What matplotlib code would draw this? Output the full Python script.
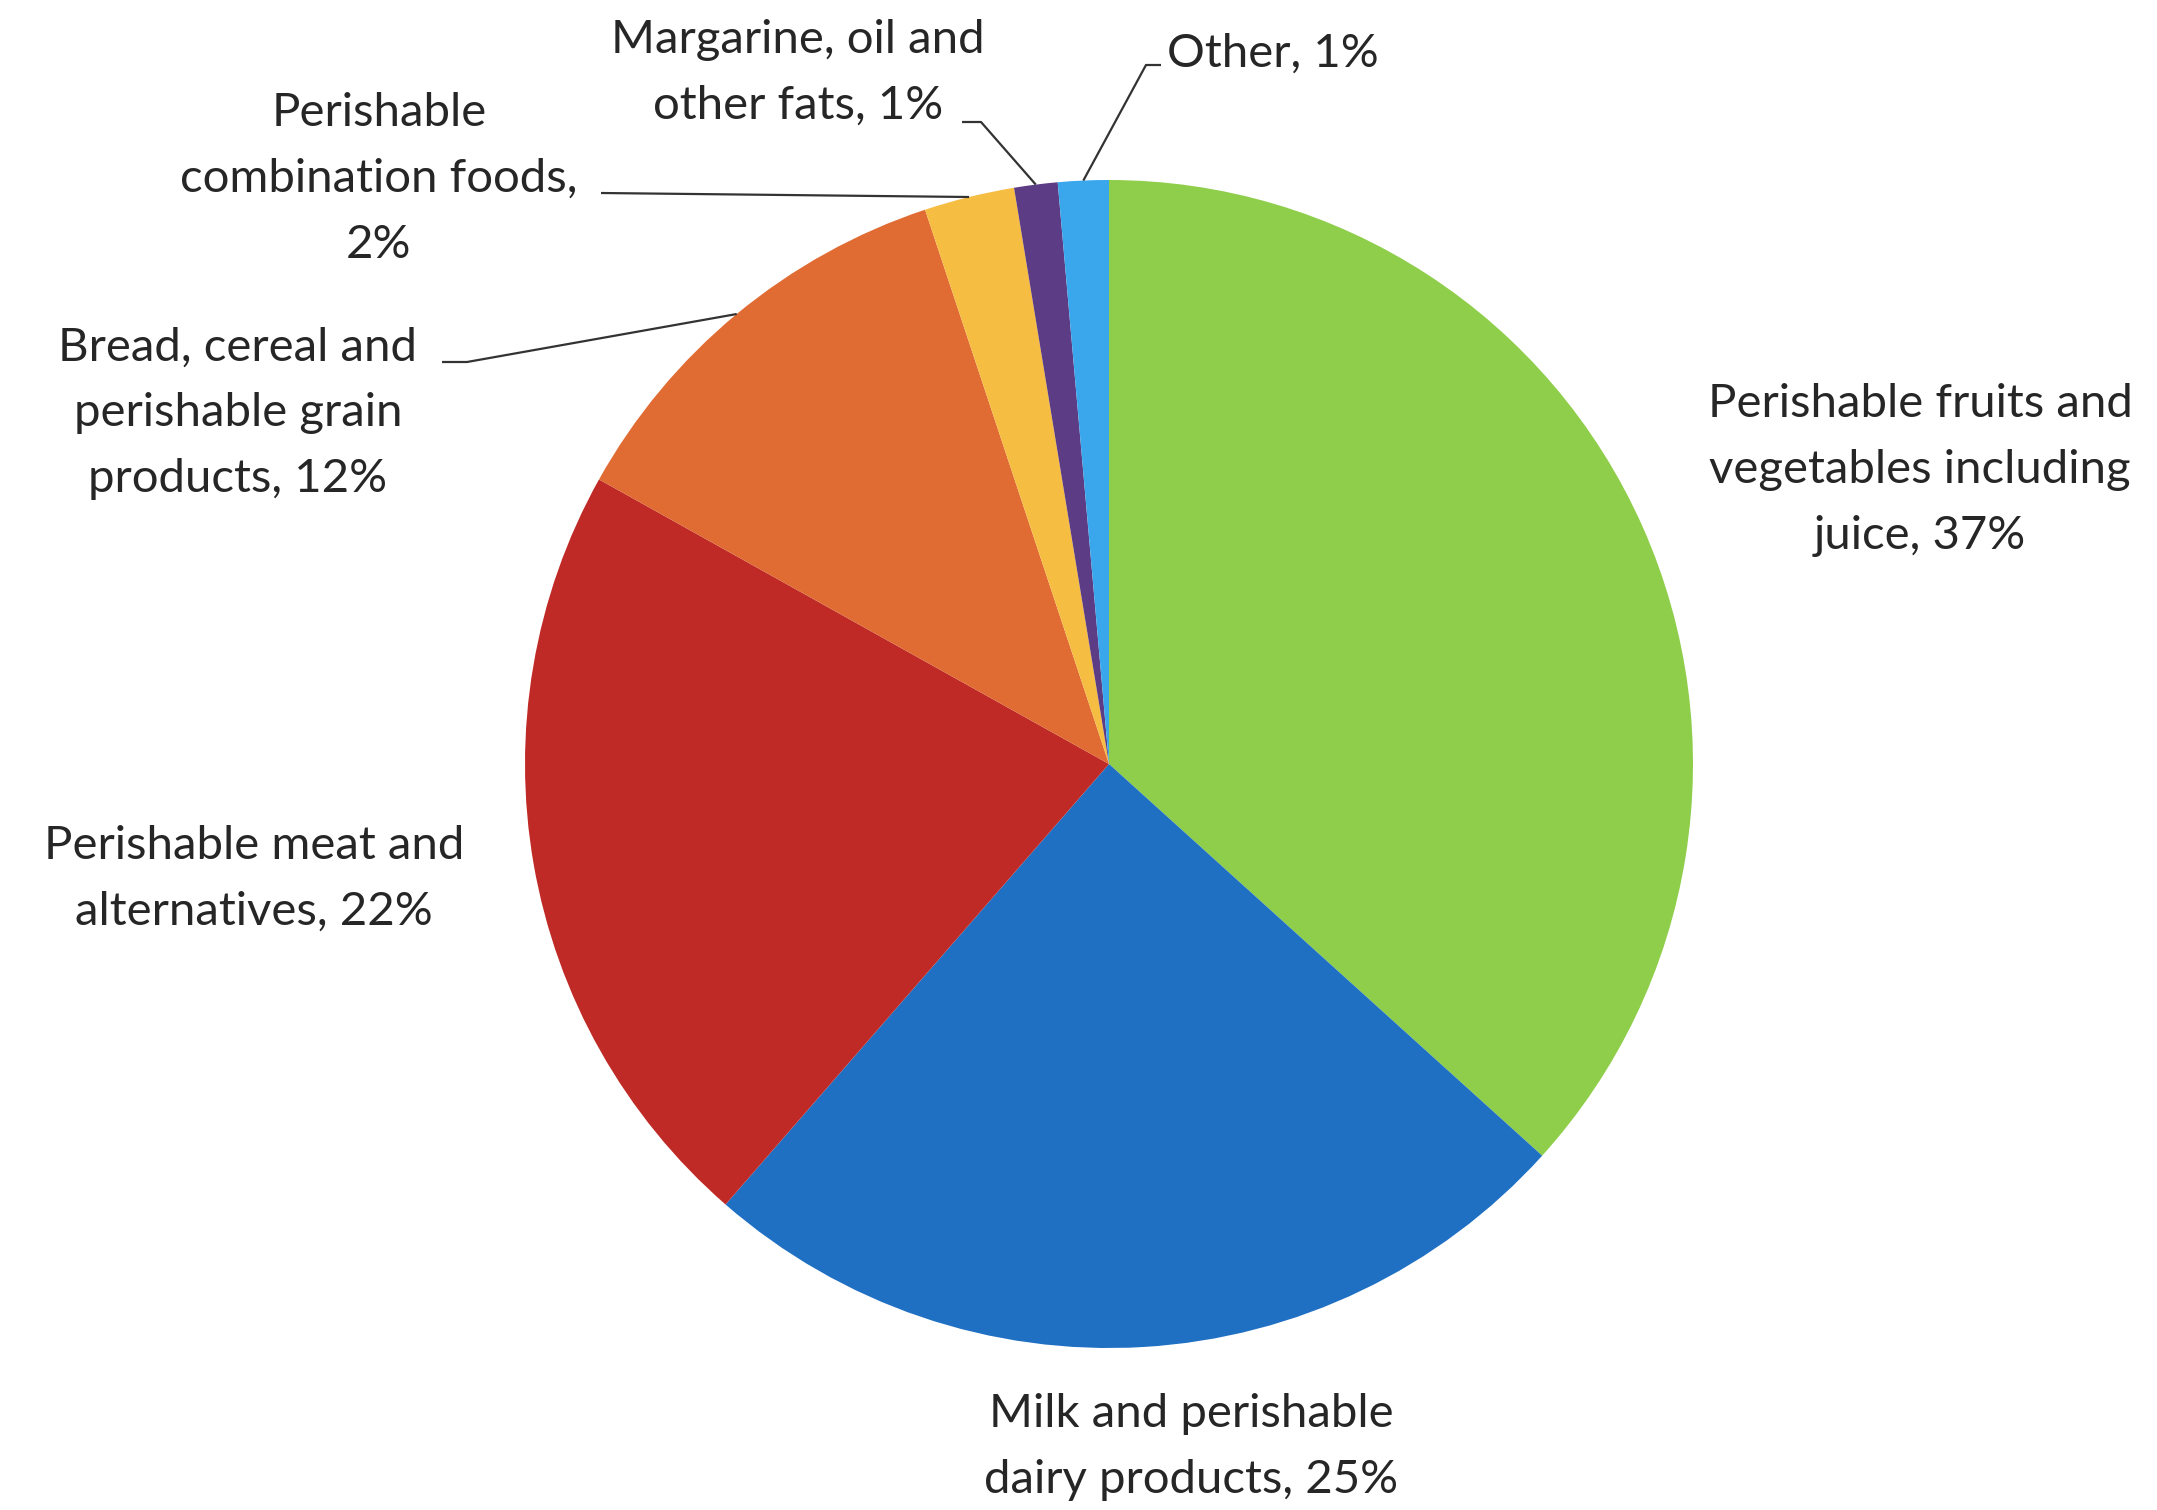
import numpy as np
import matplotlib.pyplot as plt

plt.rcParams['font.family'] = ['Lato', 'DejaVu Sans']

# data
labels = [
    "Perishable fruits and\nvegetables including\njuice, {}%",
    "Milk and perishable\ndairy products, {}%",
    "Perishable meat and\nalternatives, {}%",
    "Bread, cereal and\nperishable grain\nproducts, {}%",
    "Perishable\ncombination foods,\n{}%",
    "Margarine, oil and\nother fats, {}%",
    "Other, {}%",
]
shares = [36.7, 24.7, 21.7, 11.8, 2.5, 1.2, 1.4]
colors = ['#8fce4b', '#1f6fc3', '#bf2a26', '#e06b33', '#f6bd43', '#5c3d85', '#3aa7ec']

W, H = 2157, 1510
fig = plt.figure(figsize=(W / 100, H / 100), dpi=100)
ax = fig.add_axes([0, 0, 1, 1])

cx, cy, r = 1109, 764, 584
wedges, _ = ax.pie(shares, colors=colors, startangle=90, counterclock=False,
                   center=(cx, H - cy), radius=r, frame=True,
                   wedgeprops=dict(linewidth=0))
ax.set_xlim(0, W)
ax.set_ylim(0, H)
ax.set_aspect('equal')
ax.axis('off')

# label layout: (x, y from top, ha, leader points from text to slice)
layout = [
    (1920, 470, 'center', None),
    (1191, 1447, 'center', None),
    (254, 879, 'center', None),
    (238, 413, 'center', [(442, 362), (467, 362)]),
    (379, 179, 'center', [(601, 193)]),
    (798, 73, 'center', [(962, 122), (981, 122)]),
    (1167, 54, 'left', [(1161, 65), (1146, 65)]),
]

for w, v, lab, (x, y, ha, pts) in zip(wedges, shares, labels, layout):
    ax.text(x, H - y, lab.format(round(v)), ha=ha, va='center', fontsize=34,
            color='#262626', linespacing=1.7, multialignment='center')
    if pts:
        mid = np.deg2rad((w.theta1 + w.theta2) / 2)
        ex = w.center[0] + w.r * np.cos(mid)
        ey = w.center[1] + w.r * np.sin(mid)
        xs = [p[0] for p in pts] + [ex]
        ys = [H - p[1] for p in pts] + [ey]
        ax.plot(xs, ys, color='#333333', linewidth=1.6, solid_capstyle='butt')

fig.savefig('out.png', dpi=100, facecolor='white')
